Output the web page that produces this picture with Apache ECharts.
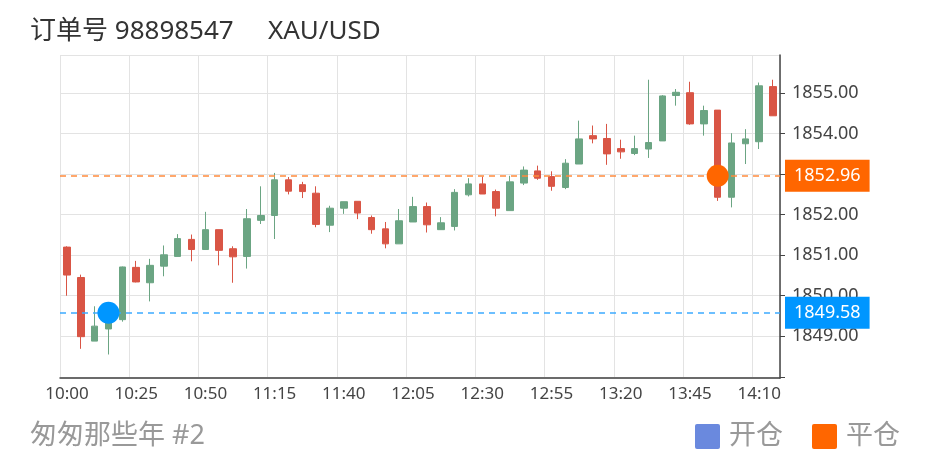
<!DOCTYPE html>
<html>
<head>
<meta charset="utf-8">
<script src="https://cdn.jsdelivr.net/npm/echarts@6/dist/echarts.min.js"></script>
<style>html,body{margin:0;padding:0;background:#fff}#c{width:930px;height:468px}</style>
</head>
<body>
<div id="c"></div>
<script>
var categories = ['10:00','10:05','10:10','10:15','10:20','10:25','10:30','10:35','10:40','10:45',
  '10:50','10:55','11:00','11:05','11:10','11:15','11:20','11:25','11:30','11:35',
  '11:40','11:45','11:50','11:55','12:00','12:05','12:10','12:15','12:20','12:25',
  '12:30','12:35','12:40','12:45','12:50','12:55','13:00','13:05','13:10','13:15',
  '13:20','13:25','13:30','13:35','13:40','13:45','13:50','13:55','14:00','14:05',
  '14:10','14:15'];
// [open, close, low, high]
var ohlc = [
  [1851.20,1850.51,1850.00,1851.22],[1850.45,1848.99,1848.69,1850.52],[1848.88,1849.25,1848.88,1849.74],
  [1849.18,1849.45,1848.55,1849.62],[1849.41,1850.71,1849.36,1850.72],[1850.70,1850.34,1850.33,1850.86],
  [1850.32,1850.75,1849.86,1850.91],[1850.73,1851.01,1850.48,1851.24],[1850.97,1851.41,1850.97,1851.52],
  [1851.39,1851.14,1850.85,1851.51],[1851.14,1851.63,1851.14,1852.07],[1851.63,1851.12,1850.75,1851.63],
  [1851.16,1850.96,1850.32,1851.22],[1850.97,1851.90,1850.67,1852.14],[1851.86,1851.98,1851.77,1852.70],
  [1851.98,1852.86,1851.40,1853.03],[1852.86,1852.58,1852.50,1852.93],[1852.74,1852.57,1852.41,1852.81],
  [1852.53,1851.76,1851.69,1852.70],[1851.74,1852.16,1851.57,1852.22],[1852.16,1852.32,1852.02,1852.32],
  [1852.33,1852.04,1851.89,1852.33],[1851.93,1851.63,1851.53,1851.98],[1851.65,1851.28,1851.17,1851.82],
  [1851.28,1851.85,1851.28,1852.14],[1851.82,1852.20,1851.82,1852.44],[1852.20,1851.75,1851.56,1852.30],
  [1851.63,1851.80,1851.63,1851.94],[1851.71,1852.55,1851.61,1852.63],[1852.49,1852.76,1852.45,1852.90],
  [1852.76,1852.51,1852.51,1852.94],[1852.57,1852.16,1851.96,1852.62],[1852.10,1852.81,1852.10,1852.96],
  [1852.78,1853.10,1852.73,1853.19],[1853.08,1852.90,1852.86,1853.21],[1852.94,1852.70,1852.59,1853.07],
  [1852.67,1853.27,1852.63,1853.37],[1853.25,1853.87,1853.25,1854.32],[1853.95,1853.87,1853.76,1854.20],
  [1853.88,1853.50,1853.23,1854.24],[1853.63,1853.55,1853.38,1853.85],[1853.51,1853.63,1853.47,1853.95],
  [1853.62,1853.78,1853.40,1855.33],[1853.82,1854.93,1853.82,1854.95],[1854.94,1855.02,1854.69,1855.10],
  [1855.01,1854.24,1854.22,1855.28],[1854.24,1854.57,1853.95,1854.69],[1854.58,1852.43,1852.34,1854.58],
  [1852.43,1853.77,1852.18,1854.01],[1853.75,1853.87,1853.25,1854.11],[1853.80,1855.18,1853.62,1855.26],
  [1855.16,1854.44,1854.44,1855.33]
];
var openPoint = [[3, 1849.58]];
var closePoint = [[47, 1852.96]];
var openPrice = 1849.58;
var closePrice = 1852.96;
var yMin = 1847.97, yMax = 1855.94;
var firstLabel = 1849;

var FONT = '"Noto Sans", "Noto Sans CJK SC", sans-serif';
var ICON = 'path://M2,0 H23 Q25,0 25,2 V23 Q25,25 23,25 H2 Q0,25 0,23 V2 Q0,0 2,0 Z';
var chart = echarts.init(document.getElementById('c'));
chart.setOption({
  animation: false,
  textStyle: { fontFamily: FONT },
  title: [
    { text: '订单号 98898547', left: 25, top: 14, textStyle: { fontSize: 26, fontWeight: 'normal', color: '#333', fontFamily: FONT } },
    { text: 'XAU/USD', left: 263, top: 14, textStyle: { fontSize: 26, fontWeight: 'normal', color: '#333', fontFamily: FONT } },
    { text: '匆匆那些年 #2', left: 25, top: 418, textStyle: { fontSize: 27, fontWeight: 'normal', color: '#999', fontFamily: FONT } }
  ],
  legend: {
    right: 25, top: 418, itemWidth: 25, itemHeight: 25, itemGap: 29, icon: ICON,
    textStyle: { fontSize: 27, color: '#999', fontFamily: FONT, padding: [0, 0, 0, 4] },
    data: [
      { name: '开仓', itemStyle: { color: '#6a89de' } },
      { name: '平仓', itemStyle: { color: '#ff6600' } }
    ]
  },
  grid: { left: 60, right: 150, top: 55, bottom: 90 },
  xAxis: {
    type: 'category', data: categories, boundaryGap: true,
    axisLine: { lineStyle: { color: '#444', width: 1.5 } },
    axisTick: { alignWithLabel: true, interval: 4, length: 5, lineStyle: { color: '#444' } },
    axisLabel: { interval: 4, fontSize: 17, color: '#444', margin: 8 },
    splitLine: { show: true, interval: 4, lineStyle: { color: '#e3e3e3', width: 1 } }
  },
  yAxis: {
    type: 'value', position: 'right', min: yMin, max: yMax, splitNumber: 8,
    minInterval: 1, maxInterval: 1,
    axisLine: { show: true, lineStyle: { color: '#444', width: 1.5 } },
    axisTick: { show: true, length: 5, lineStyle: { color: '#444' } },
    axisLabel: { showMinLabel: false, showMaxLabel: false, fontSize: 18, color: '#444', margin: 12,
      formatter: function (v) { return v < firstLabel - 0.5 ? '' : v.toFixed(2); } },
    splitLine: { show: true, lineStyle: { color: '#e3e3e3', width: 1 } }
  },
  series: [
    {
      type: 'candlestick', name: 'K', data: ohlc, barWidth: 7,
      itemStyle: { color: '#6ba583', borderColor: '#6ba583', color0: '#d95545', borderColor0: '#d95545', borderWidth: 1 },
      markLine: {
        symbol: 'none', silent: true,
        data: [
          { yAxis: closePrice, lineStyle: { color: '#ff8a3d', type: [6, 5], width: 1.5 },
            label: { backgroundColor: '#ff6600' } },
          { yAxis: openPrice, lineStyle: { color: '#3daaff', type: [6, 5], width: 1.5 },
            label: { backgroundColor: '#0096ff' } }
        ],
        label: { position: 'end', distance: 5, color: '#fff', fontSize: 18, padding: [7, 9, 7, 9],
          fontFamily: FONT, formatter: function (p) { return p.value.toFixed(2); } }
      }
    },
    { type: 'scatter', name: '开仓', data: openPoint, symbolSize: 22, z: 5, itemStyle: { color: '#0096ff', opacity: 1 } },
    { type: 'scatter', name: '平仓', data: closePoint, symbolSize: 22, z: 5, itemStyle: { color: '#ff6600', opacity: 1 } }
  ]
});
</script>
</body>
</html>
